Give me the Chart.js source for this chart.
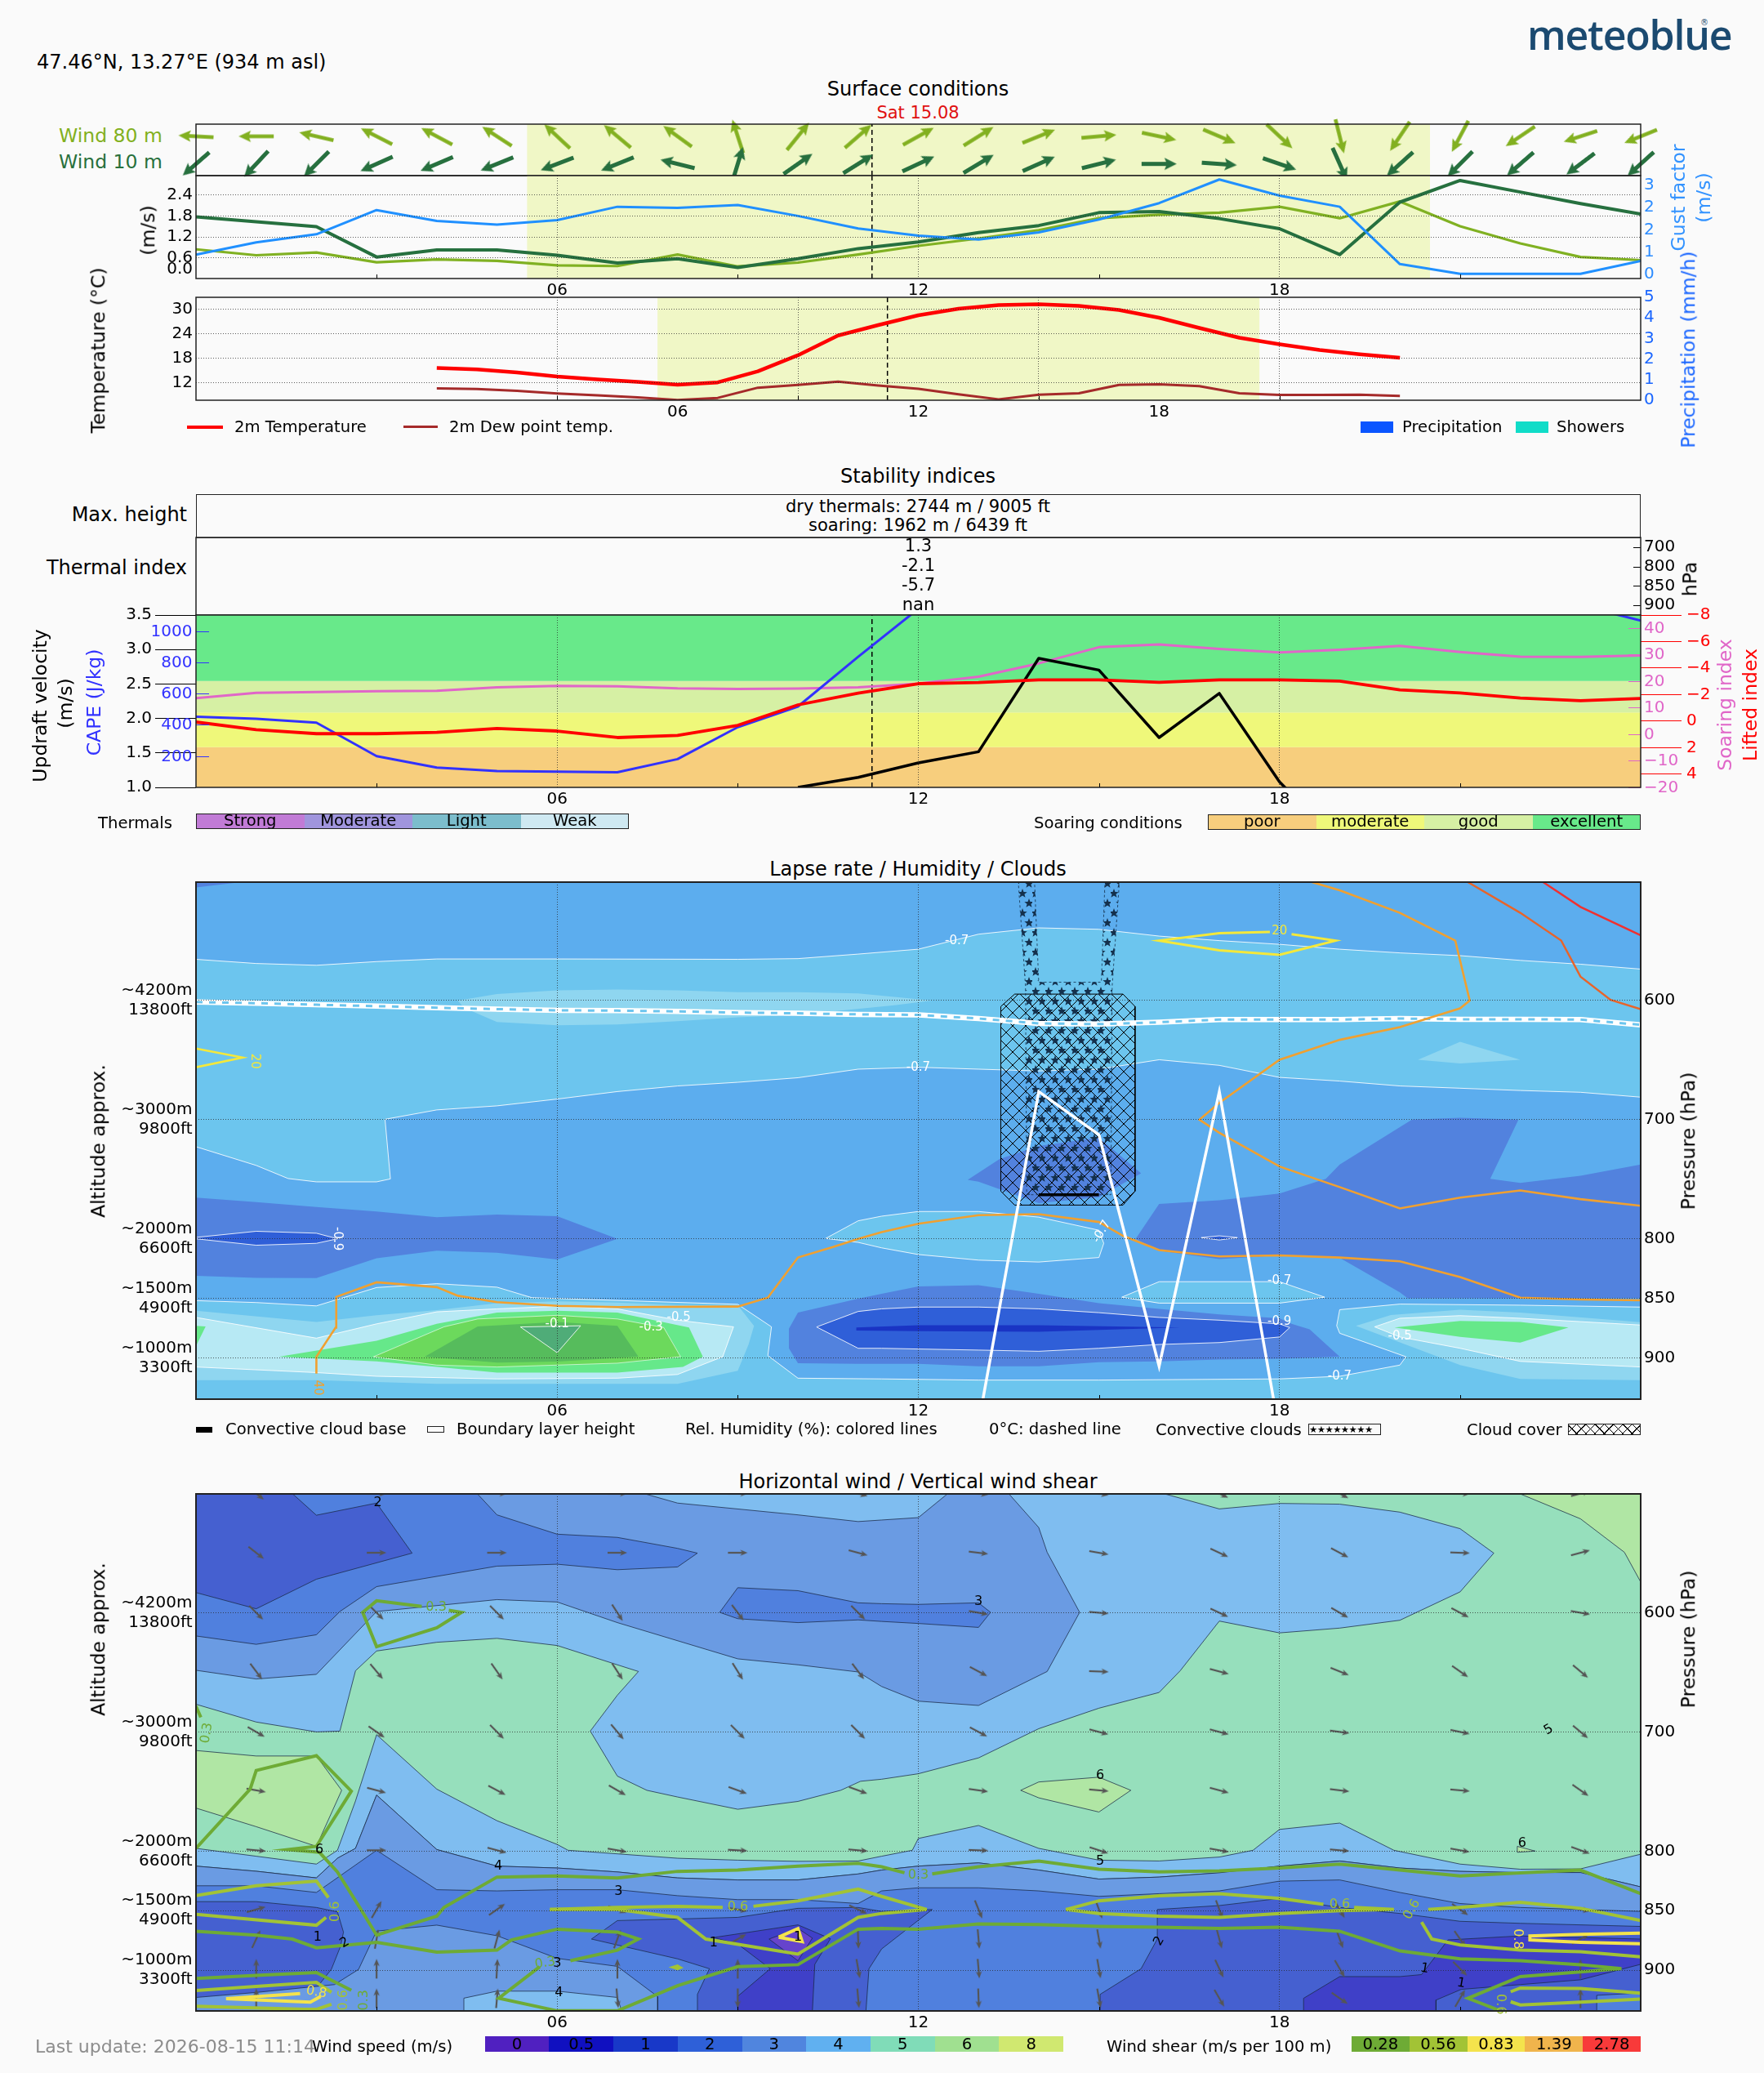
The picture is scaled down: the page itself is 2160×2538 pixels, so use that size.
<!DOCTYPE html>
<html><head><meta charset="utf-8">
<script src="https://cdn.jsdelivr.net/npm/chart.js@4"></script>
<style>
html,body{margin:0;padding:0;background:#fafafa;width:2160px;height:2538px;overflow:hidden;font-family:"DejaVu Sans",sans-serif}
canvas{position:absolute;left:0}
.t{position:absolute;white-space:nowrap;line-height:1}
.b{position:absolute;box-sizing:border-box}
</style></head><body>
<script>
/* ---------- surface conditions ---------- */
const hourTicks=[6,12,18], hourTickLabels=['06','12','18'], minorHours=[3,9,15,21];
const nowHour=11.23, daylight=[5.5,20.5];
const wind80Dir=[273,270,283,297,298,303,313,310,306,342,39,49,61,58,68,85,102,113,133,166,214,208,236,252,248];
const wind10Dir=[229,223,225,246,247,248,249,248,284,17,55,58,65,59,66,76,90,94,109,156,228,225,229,233,228];
const wind10=[1.78,1.64,1.50,.63,.83,.83,.68,.46,.58,.33,.58,.87,1.06,1.33,1.53,1.90,1.93,1.73,1.44,.70,2.20,2.82,2.49,2.16,1.86];
const wind80=[.85,.68,.76,.48,.56,.52,.39,.37,.70,.36,.47,.70,.95,1.16,1.40,1.74,1.84,1.90,2.07,1.74,2.22,1.51,1.02,.63,.54];
const gust=[.71,1.15,1.44,2.31,1.92,1.79,1.95,2.43,2.39,2.49,2.10,1.65,1.39,1.25,1.51,1.97,2.56,3.41,2.83,2.43,.37,.02,.02,.02,.48];
const windTickPos=[.28,.6,1.2,1.8,2.4], windTickLabels=['0.0','0.6','1.2','1.8','2.4'];
const gustTickPos=[0,.8,1.6,2.4,3.2], gustTickLabels=['0','1','2','2','3'];
const temp2m=[15.7,15.35,14.6,13.6,12.9,12.3,11.6,12.15,14.85,18.8,23.65,26.2,28.6,30.2,31.1,31.3,30.9,29.9,28.0,25.5,23.1,21.5,20.1,19.05,18.2];
const dew2m=[10.7,10.55,10.1,9.45,9.0,8.5,7.85,8.35,10.85,11.55,12.35,11.4,10.6,9.25,8.0,9.15,9.5,11.55,11.7,11.25,9.5,9.1,9.1,9.15,8.85];
const precipitation=[0,0,0,0,0,0,0,0,0,0,0,0,0,0,0,0,0,0,0,0,0,0,0,0,0];
const showers=[0,0,0,0,0,0,0,0,0,0,0,0,0,0,0,0,0,0,0,0,0,0,0,0,0];
const tempTicks=[12,18,24,30], precipTicks=[0,1,2,3,4,5];
/* ---------- stability ---------- */
const updraft=[null,null,null,null,null,null,null,null,null,null,1.0,1.146,1.356,1.517,2.872,2.702,1.723,2.363,1.079,.2,null,null,null,null,null];
const cape=[452,439,414,200,127,104,101,97,181,385,517,835,1142,1300,1400,1500,1500,1450,1400,1400,1350,1300,1250,1163,1067];
const soaring=[13.6,15.6,15.9,16.2,16.4,17.7,18.2,18.05,17.3,17.1,17.2,17.7,19.1,21.7,26.7,32.8,33.8,32.1,30.8,31.8,33.3,31,29.2,29.1,29.7];
const lifted=[.06,.64,.94,.94,.84,.55,.74,1.23,1.07,.31,-1.23,-2.11,-2.83,-2.91,-3.12,-3.12,-2.93,-3.12,-3.12,-3.02,-2.36,-2.13,-1.74,-1.54,-1.72];
const soarLimits=[1,1.585,2.086,2.544,3.5];
const soarNames=['poor','moderate','good','excellent'];
const thermalNames=['Strong','Moderate','Light','Weak'];
const updraftTicks=[1,1.5,2,2.5,3,3.5];
const capeTicks=[200,400,600,800,1000];
const soarTicks=[-20,-10,0,10,20,30,40], soarTickLabels=['−20','−10','0','10','20','30','40'];
const liftTicks=[-8,-6,-4,-2,0,2,4], liftTickLabels=['−8','−6','−4','−2','0','2','4'];
const hPaLabels=['700','800','850','900'], thermalIndex=['1.3','-2.1','-5.7','nan'];
/* ---------- shared vertical axes ---------- */
const pressureTicks=[600,700,800,850,900];
const altitudeLabels=[['~4200m','13800ft'],['~3000m','9800ft'],['~2000m','6600ft'],['~1500m','4900ft'],['~1000m','3300ft']];
/* ---------- lapse rate contours (hour, hPa pairs) ---------- */
const lrCorner=[0,500,.85,500,0,505];
const lrUpperBand=[0,565.4,1,568.9,2,570.4,3,567.3,4,565.1,6,565.1,9,565.4,10,564.8,11,561,12,556.9,13,544.3,14,539,15,540.2,16,545.9,17,549.7,18,552.8,19,556.9,20,560,21,562.3,22,566.3,23,569.5,24,573.6,24,681.1,23,677,22,675.5,21,673.6,20,671.7,19,667.6,18,664.5,17,654.4,16,649.7,15,657.6,14,659.1,13,657.6,12,656,11,657.6,10,664.8,9,668.6,8,671.7,7,676.4,6,682.7,5,688.4,4,691.8,3.14,699.7,3.23,749.7,3,752.2,2,752.2,1.53,749.4,1,738.4,0,722.7];
const lrPaleMid=[4.35,600,5,594.6,6,591.4,7,590.8,8,591.4,9,593,10,593,11,594,11.6,596.9,12.23,600,11.6,604,10,612,9,614,8,617.4,7,620,6,620.7,5,618,4.45,606];
const lrPaleRight=[20.3,649.7,21,634.6,22,649.7,21,652.8];
const lrDarkLeft=[0,765.4,1,769.2,2,773.3,3,777.1,4,781.8,5,779.6,6,781.1,7,800,6,817.3,5,811.7,4,810,3,816.4,2,833,1,832.7,0,831.1];
const lrDeepLeft=[0,798.8,1,793.7,2,795.3,2.35,800,2,803.8,1,805.4,0,800];
const lrBlobCloud=[12.82,750.5,13.35,733,14,722,15,715,15.7,745,15,765,14,770,13,752];
const lrDarkRight=[15.61,800,16,770.8,17,767.6,18,762,18.77,749.7,19,737.7,20.2,700,21,698.4,21.97,700,21.5,749.7,22,753,23,747,24,737.7,24,850,20.13,850,20,845,19,816,18,814,17,817,16,810];
const lrDeepDot=[16.7,799,17,797.5,17.3,799,17,801];
const lrLowLight=[0,851.9,1,853.5,2,856.3,3,840.9,4,837.7,5,840.6,5.58,849.4,9,855,9.56,873.9,9.5,898,10,917,11.39,917.6,13,918.6,15,918.6,18,917.6,19,915.4,20,906,20.1,899,19,879.3,18.95,873,19,859.5,20,854.8,22,855.7,24,857.3,24,935,0,935];
const lrLowDark=[9.85,875.5,10,862,11,850.3,11.39,846.2,12,840,13,839,14,846.2,15,854,16,858.8,17,863.5,18,866.7,18.2,871.4,18.5,876,19,899,18,900.7,17,901.3,16,902.9,15,903.5,14,907,13,907,12,905,11,905,10,904.4,9.85,891.9];
const lrLowDeep=[10.31,874,11,861,11.39,858.8,12,857.3,13,857.3,14,858.8,15,862,16,866,17,868.3,18,871.4,18.17,874.5,18,882.4,17,887.1,16,888.7,15,891.9,14,894.4,13,893.4,12,892.5,11.39,891.9,11,891.9];
const lrLowDeepest=[10.97,874.5,12,872.5,14,872.5,16.35,874.5,14,878,12,877.5,10.97,877];
const lrPaleLeft=[0,860.4,2,869.8,3,864.2,4,859.8,5,854,6,852.5,7,853.5,8,855.7,9,855.7,9.27,873,9.18,888.7,9,910.7,8,921.7,6,921.7,4,921.7,2,918.6,0,918.6];
const lrPalestLeft=[0,866,2,883.4,3,871.4,4,861.3,5,858.8,6,856.6,7,858.8,8,868.3,8.93,873.9,8.75,899,8,913.9,7,917,5,917.6,3,915.4,2,912.3,0,907.6];
const lrGreenA=[1.38,899,3,885.5,4,871.4,5,862,6,860.4,7,862,8.19,874.5,8.42,899,8.09,907.6,7,912.3,5,912.3,4,907.6,3,902.9];
const lrGreenEdge=[0,873,.16,873.5,0,890];
const lrGreenB=[2.95,899,4.12,873.9,4.68,867.3,6,864.2,7,867.3,7.77,874.5,8.05,899,7,904.4,5,907.6,4,906];
const lrGreenC=[3.8,899,4.68,873.5,6,869.8,7,873,7.35,899,6,903,5,904];
const lrGreenD=[5.39,874,6.39,873,6,895.6];
const lrPaleLow=[19.27,873,19.85,864,21,859.5,22,862,24,870,24,918.6,22,917.6,21,906,20,887];
const lrPalestLow=[19.58,873.9,20,866.7,21,864.5,22,866.7,24,872.4,24,907.6,22,902.9,21,891.9,20,882.4];
const lrGreenLow=[19.91,874.5,21,868.9,22,869.8,22.8,874.5,22,887.1,21,882.4];
const lrLightMid=[10.46,799.7,11,784.9,11.39,781,12,777.1,13,777.1,14,781.8,15,792.8,15.08,803.8,15,815.7,14,819.5,13,817.9,12,813.2,11.39,807.6,11,803];
const lrLightPatch=[15.38,849,16,836,18,836,18.75,849,18,854,16,854];
const boundaryLayer=[null,null,null,null,null,null,null,null,null,null,null,null,null,955,676.4,712.6,907,676.4,963,null,null,null,null,null,null];
const cloudBase=[14,763,15,763];
const freezing=[601.3,602.2,603.5,604.7,606,607.2,608.2,608.5,609.1,610.1,610.7,611.6,612,615.1,619.2,619.8,618.2,616,616,616,615.1,615.7,615.7,616,620.4];
const rhOrangeLow=[2,913.2,2,899,2.32,874.5,2.33,848.8,3,836.5,4,840.6,4.35,847.8,5,853.2,6,856.3,7,857.3,9,856.9,9.5,849.4,10,815.7,10.58,806.9,11,800,11.39,794.4,12,787.4,13,780.2,14,779.3,15,785.9,15.4,797.5,16,809.5,17,814.8,18,813.9,19,815.7,20,818.9,21,832.1,22,849.4,23,851,24,851.6];
const rhOrangeHigh=[18.54,500.6,19,507.5,20,526.4,20.92,549.7,21.16,600,21,606.6,20,622.3,19,633,18,649.7,17,685.9,16.67,700,17,711,18,739.3,19,756.6,20,774.5,21,765.4,22,759.4,23,766.7,24,772.3];
const rhDeepOrange=[21.13,500.6,22,526.4,22.68,549.7,23,579.9,23.5,599.4,24,607.2];
const rhRed=[22.38,500.6,23,521.4,24,545.3];
const rhYellowA=[18.2,544.3,18.93,549.7,18,561.6,17,557.9,16,549.7,17,543.4,17.84,542.4];
const rhYellowB=[0,640.3,.776,647.8,0,656];
const cloudCover=[13.37,605,13.6,594.6,15.4,594.6,15.6,605,15.6,760,15.4,771.7,13.6,771.7,13.37,760];
const convClouds=[13.66,500,13.93,500,14,584.6,15.04,584.6,15.1,500,15.34,500,15.22,588,15.2,763,13.8,763,13.78,588];
const lapseLabels=[[12.64,549.7,'-0.7',0,'#fff'],[12,656,'-0.7',0,'#fff'],[15.05,794,'-0.7',-60,'#fff'],[18,835,'-0.7',0,'#fff'],[18,869.8,'-0.9',0,'#fff'],[20,881.8,'-0.5',0,'#fff'],[19,915.4,'-0.7',0,'#fff'],[2.35,800,'-0.9',90,'#fff'],[6,871.7,'-0.1',0,'#fff'],[7.56,874,'-0.3',0,'#fff'],[8.02,866,'-0.5',0,'#fff'],[2.02,925,'40',90,'#f0a030'],[.97,651,'20',90,'#f4e83a'],[18,542,'20',0,'#f4e83a']];
/* ---------- horizontal wind contours (hour, hPa pairs) ---------- */
const wsBlue4Top=[0,500,16.07,500,17,512.9,18,508.3,19,508.9,20,515.6,21,529.5,21.56,550,21,582.5,20,606.3,19,612.9,18,616.9,17,607,16.35,648.7,16,666.9,15,680.1,14,697.3,13,721.8,12,735.1,11.39,739.7,11.04,741.4,10.71,749,10,758.3,9,764.9,8,754.6,7.49,749,7,737.1,6.55,699.3,7,669.2,7.35,649.3,7,643.7,6,627.5,5,621.5,4,624.8,3,632.1,2.65,648.7,2.39,699.3,2,700,1,691.7,0,676.8];
const wsBlue4Low=[0,797.7,1,804.3,2,810.9,2.35,799.3,2.65,757.9,3,702.3,4,748,5,774.5,6,794.4,6.18,799.3,8,806,9,807.6,10,808.6,11,808.3,11.39,804.3,11.9,799.3,12,789.4,13,778.5,14,797.7,15,807.6,16,808.3,17,805,17.56,799.3,18,781.8,19,776.5,19.9,799.3,21,810.9,22,815.2,23,814.9,24,802.6,24,830,23,818,22,818,21,817,20,814.2,19,808.3,18,812.6,17,818.2,16,821.8,15,823.5,14,815.9,13,809.9,12,812.6,11.39,815.9,11,819.2,10,824.2,9,824.2,8,822.5,7,817.5,6,814.2,5,812.6,4,798.7,3,753,2.65,797.7,2.35,806,2,822.5,1,816.9,0,812.6];
const wsGreenLeft=[0,715.6,1,720.2,2,720.2,2.42,749,2,796,1,779.5,0,763.9];
const wsGreenMid=[13.7,749,14,742,15,738,15.53,749,15,767.2,14,755.3];
const wsGreenTop=[22,500.3,23,521.2,23.73,549.3,24,574.2,24,500];
const wsGreenDot=[21.95,796,22.25,800,21.95,801];
const wsGrey3Top=[0,500,7.44,500,8,508,10,517.9,11,523.5,11.39,522.2,12,520.2,12.49,500,13.5,500,14,528.5,14.14,549.3,14.68,599.7,14.14,649.3,13,677.8,12,674.2,11.39,661.9,11,649.7,10,643.7,9,638.7,7,608.3,6,591,5,589,3,599,2,651.7,1,655.6,0,648.3];
const wsBlue2Top=[0,500,4.67,500,5,517.9,6,534.1,7,536.8,8,546,8.33,550,8,561.6,7,563.9,6,559.3,5,560.9,3,578.1,2.39,599,2,618.5,1,626.5,0,619.5];
const wsIndigoTop=[0,500,1.6,500,2,518.2,3,508,3.59,550,2,571.9,1,596.7,0,583.1];
const wsBlue2Mid=[8.7,599.7,9,579,10,581.5,11,591.7,11.39,592.4,12,593,13,591.7,13.2,599.7,13,612.3,12,609,11.39,607.3,11,606,10,608.3,9,605];
const wsGrey3Low=[0,812.6,1,816.9,2,822.5,2.35,806,2.65,797.7,3,753,4,798.7,5,812.6,6,814.2,7,817.5,8,822.5,9,824.2,10,824.2,11,819.2,11.39,815.9,12,812.6,13,809.9,14,815.9,15,823.5,16,821.8,17,818.2,18,812.6,19,808.3,20,814.2,21,817,22,818,23,818,24,830,24,934,0,934];
const wsBlue2Low=[0,829.1,1,829.1,2,834.7,3,799.3,4,832.4,5,833.4,6,832.4,7,832.4,8,837.4,9,840.7,10,840.7,11,844,11.39,833.4,12,830.8,13,830.8,14,833.4,15,838,16,835.7,17,833.4,18,825.2,19,824.2,20,834.7,21,844,22,847.3,24,850.6,24,934,0,934];
const wsIndigoLeft=[0,842.4,1,842.4,2,847.3,2.35,851,2.45,868,2.4,880,2.25,899,2,915,0,925];
const wsGrey3Bottom=[0,922.8,1,918.6,2.3,912,2.7,899.3,3,867.1,4,862.1,5,871,6,890,7,896.7,7.67,922.1,7.67,934,0,934];
const wsBlue4Bottom=[4.45,923.4,5,917.5,6,917.5,7,922.8,7.07,934,4.45,934];
const wsIndigoCentre=[6.57,873.8,7,858.3,9,855.6,10,848,11,847.3,11.39,850.6,12.23,849,11.39,882.1,11.18,898.7,11.13,934,8.33,934,8.33,920.2,8.53,898.7,8,890.4,7,878.8];
const wsVioletCentre=[8.6,872.5,10,861.9,10.54,873.5,10.28,895,10.24,934,9,934,9,921.8,9.54,898.7,9,878];
const wsPurpleCentre=[9.52,873.8,10,864.8,10.24,873,10,892];
const wsIndigoRight=[15.97,849,17,845.7,18,839.7,19,847.3,20,852.3,21,858.9,22,860.6,24,863.2,24,934,15.02,934,15.02,920.2,15.7,898.7,15.97,873.8];
const wsVioletRight=[18.4,923.5,19,905.3,20,905.3,20.36,903.6,20.8,874.5,22,871.2,24,873.8,24,895,23,908,22,912,21.02,916,20.6,925,20.6,934,18.4,934];
const wsBlue2Corner=[23.27,921,24,919,24,934,23.27,934];
/* wind arrows */
const arrowHours=[1,3,5,7,9,11,13,15,17,19,21,23];
const arrowLevels=[500,549.7,600,649.3,700,749,799.3,849,873.8,898.7,923.5];
const dir500=[128,90,90,90,90,105,97,100,115,118,92,75];
const dir550=[128,90,90,90,90,105,97,100,115,118,92,75];
const dir600=[135,135,135,147,143,135,100,95,115,120,118,100];
const dir650=[143,140,145,147,148,143,118,92,105,112,125,130];
const dir700=[120,125,135,140,135,135,118,105,105,98,102,130];
const dir750=[100,105,118,120,110,110,98,95,105,97,95,125];
const dir800=[95,90,105,100,93,95,92,108,100,95,100,110];
const dir850=[74,30,55,110,100,115,158,160,160,150,125,100];
const dir875=[25,10,15,20,60,178,175,170,165,160,145,60];
const dir900=[0,0,3,0,0,170,175,170,155,150,135,0];
const dir925=[0,0,5,175,180,175,178,170,150,125,30,0];
const arrowDirs=[dir500,dir550,dir600,dir650,dir700,dir750,dir800,dir850,dir875,dir900,dir925];
/* shear lines */
const shGreenA=[3.75,594.7,3,590,2.77,599.7,3,628.5,4,612.6,4.41,599.7,4.2,598];
const shGreenB=[0,797.7,.9,748,1,732.4,2,719.9,2.58,749.7,2,796,1.53,798.7,2.05,801,2.35,817.5,2.72,847.3,3,870.5,4,854.6,4.12,847.3,5,821.8,6,820.8,7,822.5,8,817,9,815.9,10,812.6,11,810.3,11.39,813.2,11.77,818.2];
const shGreenB2=[12.23,819.2,13,813.2,14,808.3,15,815.2,16,817.5,17,816.5,18,814.2,19,810.9,20,815.9,21,820.8,22,818.2,23,815.9,24,835.7];
const shGreenC=[0,867.2,1,870.5,1.6,873.8,2,881.1,3,876.5,4,884.8,5,883.1,5.24,874.5,6,865.5,7,867.9,7.35,873.8,7,883.1,6.22,892];
const shGreenC2=[5.71,897,5.03,923.5,6,934,7,934,8,912.9,9,897,10,895.3,11,865.5,11.39,864.9,12,865.5,13,861.2,14,861.6,15,863.2,16,863.9,17,864.9,18,863.9,19,867.2,20,883.8,21,890.4,22,892,23,895.3,23.68,898.7,22,905.3,21.13,923.5,21.67,934];
const shGreenD=[0,906.9,1,904.3,2,901.9,2.58,916.8];
const shGreenE=[0,678.5,.08,687.7];
const shOliveA=[0,837.4,1,829.1,2,825.2,2.2,839];
const shOliveB=[0,853,2,862.2,2.16,855.6];
const shOliveC=[0,916.9,1,913.6,2,910.2,2.25,918.5];
const shOliveD=[0,930.2,1.8,932.8,2,932.8,2.25,928.5];
const shOliveE=[5.88,849,7,849,8,855.6,8.47,873.8,10,886.4,11,855.6,11.39,852.3,12.14,849];
const shOliveF=[5.88,849,7,847.3,8,846.3,8.75,847.3];
const shOliveG=[9.26,846.3,10,841.7,11,831.8,11.39,838,12.14,849];
const shOliveH=[14.45,849,15,841.7,16,837.4,17,835.7,18,839.7,18.73,844.6];
const shOliveI=[19.24,847.3,19.9,849,19,850,18,852.3,17,855.6,16,854.6,15,852.3,14.45,849];
const shOliveJ=[20.47,849,21,847.3,22,843,23,848,24,858.2];
const shOliveK=[20.36,859.6,20.53,873.8,21,878.8,22,883.1,23,884.4,24,888.7];
const shOliveL=[24,919.2,23,915.2,22,914.9,21.84,918];
const shOliveM=[24,924.2,23,926.8,22,929.1,21.84,926.4];
const shYellowA=[.5,923.8,1.73,919.6];
const shYellowB=[.5,923.8,1.9,926.8,2.07,922];
const shYellowC=[9.68,872.2,10,865,10.07,876,9.68,872.2];
const shYellowD=[24,868.9,23,869.9,22.16,871.2,22.16,874.5,23,876.5,24,877.8];
const shBlob=[7.85,897.5,8,895,8.1,898,8,900];
const windLabels=[[3.02,508,'2',0,'#000'],[2.05,799.3,'6',0,'#000'],[5.02,812.6,'4',0,'#000'],[7.02,834,'3',0,'#000'],[2.02,872.5,'1',0,'#000'],[2.47,877,'2',-30,'#000'],[6,894,'3',0,'#000'],[6.03,918.6,'4',0,'#000'],[13,590.7,'3',0,'#000'],[15.02,736.4,'6',0,'#000'],[15.02,808.3,'5',0,'#000'],[16,875.5,'2',-60,'#000'],[22.47,698.3,'5',-30,'#000'],[22.03,793.4,'6',0,'#000'],[20.41,898.7,'1',10,'#000'],[21.02,911,'1',10,'#000'],[8.6,877,'1',0,'#000'],[10,872,'1',0,'#000'],
[3.99,595.7,'0.3',0,'#6eab35'],[.18,701,'0.3',-80,'#6eab35'],[12,820,'0.3',0,'#6eab35'],[5.8,894,'0.3',-10,'#6eab35'],[2.32,850.7,'0.6',-90,'#a2c335'],[9,847.3,'0.6',0,'#a2c335'],[2,918.5,'0.8',10,'#f4e34c'],[2.46,925,'0.6',-90,'#a2c335'],[2.79,925,'0.3',-90,'#6eab35'],[19,845,'0.6',0,'#a2c335'],[20.2,849,'0.6',-60,'#a2c335'],[21.95,873.8,'0.8',90,'#f4e34c'],[21.67,928.5,'0.6',90,'#a2c335']];
/* legends */
const windSpeedLevels=['0','0.5','1','2','3','4','5','6','8'];
const shearLevels=['0.28','0.56','0.83','1.39','2.78'];

/* ---------- helpers ---------- */
Chart.defaults.font.family='"DejaVu Sans"';
Chart.defaults.font.size=20;
Chart.defaults.color='#000';
const PT=40,PB=40,LEFT=240,RIGHT=151,DOT='rgba(40,40,40,.75)';
const pairs=a=>{const r=[];for(let i=0;i<a.length;i+=2)r.push({x:a[i],y:a[i+1]});return r};
const base={pointRadius:0,pointHitRadius:0,tension:0,spanGaps:false};
function poly(a,color,border,bw,extra){const d=pairs(a);d.push(d[0]);return Object.assign({},base,{data:d,fill:'shape',backgroundColor:color,borderColor:border||color,borderWidth:border?(bw||1):0},extra||{})}
function path(a,color,w,extra){return Object.assign({},base,{data:pairs(a),fill:false,borderColor:color,borderWidth:w,borderJoinStyle:'miter'},extra||{})}
function hourly(v,color,w,extra){return Object.assign({},base,{data:v.map((y,x)=>({x,y})),fill:false,borderColor:color,borderWidth:w,borderJoinStyle:'round'},extra||{})}
function rect(x0,x1,y0,y1,color){return poly([x0,y0,x1,y0,x1,y1,x0,y1],color)}
function arrowImage(len,shaft,headLen,headW,color){const c=document.createElement('canvas');c.width=c.height=len+6;const g=c.getContext('2d'),m=c.width/2,t=3;g.fillStyle=color;g.beginPath();g.moveTo(m,t);g.lineTo(m+headW/2,t+headLen);g.lineTo(m+shaft/2,t+headLen-2);g.lineTo(m+shaft/2,t+len);g.lineTo(m-shaft/2,t+len);g.lineTo(m-shaft/2,t+headLen-2);g.lineTo(m-headW/2,t+headLen);g.closePath();g.fill();return c}
function hatchPattern(){const c=document.createElement('canvas');c.width=c.height=16;const g=c.getContext('2d');g.strokeStyle='#000';g.lineWidth=1;g.beginPath();g.moveTo(0,0);g.lineTo(16,16);g.moveTo(16,0);g.lineTo(0,16);g.stroke();return g.createPattern(c,'repeat')}
function starPath(g,x,y,r){g.beginPath();for(let i=0;i<10;i++){const q=i%2?r*.42:r,a=-Math.PI/2+i*Math.PI/5;g.lineTo(x+q*Math.cos(a),y+q*Math.sin(a))}g.closePath();g.fill()}
function starPattern(){const c=document.createElement('canvas');c.width=16;c.height=24;const g=c.getContext('2d');g.fillStyle='#14304c';starPath(g,4,6,6);starPath(g,12,18,6);return g.createPattern(c,'repeat')}
const extrasCfg={};
Chart.register({id:'extras',afterDraw(c){
 const o=extrasCfg[c.canvas.id];if(!o)return;const g=c.ctx,a=c.chartArea;g.save();
 if(o.minor){g.strokeStyle='#000';g.lineWidth=1;g.beginPath();o.minor.forEach(h=>{const x=Math.round(c.scales.x.getPixelForValue(h))+.5;g.moveTo(x,a.bottom);g.lineTo(x,a.bottom-5)});g.stroke()}
 (o.side||[]).forEach(s=>{const sc=c.scales[s.scale];g.strokeStyle=s.color;g.fillStyle=s.color;g.lineWidth=1;g.font=(s.size||20)+'px "DejaVu Sans"';g.textBaseline='middle';g.textAlign=s.align;
  s.values.forEach((v,i)=>{const y=Math.round(sc.getPixelForValue(v))+.5;g.beginPath();g.moveTo(s.from,y);g.lineTo(s.to,y);g.stroke();if(s.labels)g.fillText(s.labels[i],s.labelX,y)})});
 (o.labels||[]).forEach(l=>{const x=c.scales.x.getPixelForValue(l[0]),y=c.scales[o.labelScale||'y'].getPixelForValue(l[1]);g.save();g.translate(x,y);g.rotate((l[3]||0)*Math.PI/180);g.fillStyle=l[4]||'#000';g.font=(o.labelSize||15)+'px "DejaVu Sans"';g.textAlign='center';g.textBaseline='middle';g.fillText(l[2],0,0);g.restore()});
 if(o.frame!==false){g.strokeStyle='#222';g.lineWidth=o.frameW||1.5;g.strokeRect(a.left,a.top,a.right-a.left,a.bottom-a.top)}
 g.restore()}});
function xAxis(){return{type:'linear',min:0,max:24,afterFit:s=>{s.height=PB},afterBuildTicks:s=>{s.ticks=hourTicks.map(v=>({value:v}))},
 ticks:{callback:(v,i)=>hourTickLabels[i],autoSkip:false,maxRotation:0,padding:3,font:{size:20},color:'#000'},
 grid:{drawTicks:false,color:DOT,lineWidth:1,z:1},border:{display:false,dash:[1,2]}}}
function yAxis(side,min,max,pos,labs,o){o=o||{};return{type:'linear',position:side,min,max,reverse:!!o.reverse,
 afterFit:s=>{s.width=side==='left'?LEFT:RIGHT},afterBuildTicks:s=>{s.ticks=pos.map(v=>({value:v}))},
 ticks:{callback:(v,i)=>labs[i],autoSkip:false,padding:o.pad===undefined?4:o.pad,color:o.color||'#000',font:{size:o.size||20}},
 grid:{drawOnChartArea:!!o.grid,drawTicks:!!o.tick,tickLength:o.tick||0,tickColor:o.tickColor||o.color||'#000',color:c=>(o.noGrid&&o.noGrid.includes(c.tick&&c.tick.value))?'rgba(0,0,0,0)':DOT,lineWidth:1,z:1},border:{display:false,dash:o.grid?[1,2]:undefined}}}
function make(id,top,bottom,datasets,scales,extra,pad){
 const c=document.createElement('canvas');c.id=id;c.width=2160;c.height=bottom-top+PT+PB;c.style.top=(top-PT)+'px';document.body.appendChild(c);
 extrasCfg[id]=extra||{};
 return new Chart(c,{type:'line',data:{datasets:datasets.slice().reverse()},options:{responsive:false,animation:false,devicePixelRatio:1,events:[],parsing:undefined,layout:{padding:pad||{top:PT,left:0,right:0,bottom:0}},plugins:{legend:{display:false},tooltip:{enabled:false},title:{display:false}},scales}})}
function txt(s,x,y,o){o=o||{};const e=document.createElement('div');e.className='t';e.textContent=s;const ax=o.align==='center'?'-50%':o.align==='right'?'-100%':'0';e.style.cssText=`left:${x}px;top:${y}px;font-size:${o.size||20}px;color:${o.color||'#000'};transform:translate(${ax},-50%)`+(o.rot?` rotate(${o.rot}deg)`:'')+';'+(o.css||'');document.body.appendChild(e);return e}
function box(x,y,w,h,bg,border){const e=document.createElement('div');e.className='b';e.style.cssText=`left:${x}px;top:${y}px;width:${w}px;height:${h}px;background:${bg};`+(border?`border:${border};`:'');document.body.appendChild(e);return e}
function vtxt(s,x,y,color,size){const e=txt(s,x,y,{size:size||23.5,color});e.style.transform='translate(-50%,-50%) rotate(-90deg)';return e}

/* ---------- header ---------- */
txt('47.46°N, 13.27°E (934 m asl)',45,75.5,{size:24});
txt('meteoblue',1870,42,{size:50,color:'#1b4a70',css:'font-family:"Open Sans";font-weight:600;letter-spacing:-1.2px;'});
txt('®',2082,28,{size:10,color:'#1b4a70'});
txt('Surface conditions',1124,109,{size:24,align:'center'});
txt('Sat 15.08',1124,137.5,{size:21,align:'center',color:'#e01010'});
txt('Wind 80 m',72,166.5,{size:23.5,color:'#82b020'});
txt('Wind 10 m',72,199,{size:23.5,color:'#28703c'});

/* ---------- arrows strip ---------- */
const img80=arrowImage(43,4.5,15,14,'#82b020'),img10=arrowImage(43,5,15,15,'#27703f');
const arrowSet=(dirs,level,img)=>({pointStyle:img,pointRadius:20,pointRotation:c=>dirs[c.dataIndex],showLine:false,clip:false,data:dirs.map((d,x)=>({x,y:level})),borderWidth:0});
make('cArrows',152,215,[
 rect(daylight[0],daylight[1],0,1,'#f0f7c6'),
 path([nowHour,0,nowHour,1],'#000',1.5,{borderDash:[6,4]}),
 arrowSet(wind80Dir,.763,img80),arrowSet(wind10Dir,.227,img10)
],{x:{type:'linear',min:0,max:24,display:false},y:{type:'linear',min:0,max:1,display:false}},{},{top:PT,left:LEFT,right:RIGHT,bottom:PB});

/* ---------- wind ---------- */
make('cWind',215,341,[
 rect(daylight[0],daylight[1],.014,2.96,'#f0f7c6'),
 path([nowHour,.014,nowHour,2.96],'#000',1.5,{borderDash:[6,4]}),
 hourly(wind80,'#80b122',3.2),hourly(wind10,'#26703f',4),hourly(gust,'#2090ff',3,{yAxisID:'y1'})
],{x:xAxis(),y:yAxis('left',.014,2.96,windTickPos,windTickLabels,{grid:true,noGrid:[.28]}),
 y1:yAxis('right',-.15,3.55,gustTickPos,gustTickLabels,{color:'#2c8cff'})},{minor:minorHours});
vtxt('(m/s)',182,282);
vtxt('Gust factor',2056,242,'#3393ff');vtxt('(m/s)',2087,242,'#3393ff');

/* ---------- temperature ---------- */
make('cTemp',364,490,[
 rect(daylight[0],daylight[1],7.78,33,'#f0f7c6'),
 path([nowHour,7.78,nowHour,33],'#000',1.5,{borderDash:[6,4]}),
 {type:'bar',data:precipitation.map((y,x)=>({x,y})),backgroundColor:'#0a55ff',yAxisID:'y1'},
 {type:'bar',data:showers.map((y,x)=>({x,y})),backgroundColor:'#10dcc8',yAxisID:'y1'},
 hourly(dew2m,'#a52a2a',3),hourly(temp2m,'#ff0000',4.5)
],{x:xAxis(),y:yAxis('left',7.78,33,tempTicks,tempTicks.map(String),{grid:true}),
 y1:yAxis('right',0,5,precipTicks,precipTicks.map(String),{color:'#1a66ff'})},{minor:minorHours});
vtxt('Temperature (°C)',121,428.5);
vtxt('Precipitation (mm/h)',2068,428,'#1a66ff');
box(229,521,44,4,'#ff0000');txt('2m Temperature',287,523,{size:19.6});
box(494,521,42,3,'#a52a2a');txt('2m Dew point temp.',550,523,{size:19.6});
box(1666,516,40,14,'#0a55ff');txt('Precipitation',1717,523,{size:19.6});
box(1856,516,40,14,'#10dcc8');txt('Showers',1906,523,{size:19.6});

/* ---------- stability ---------- */
txt('Stability indices',1124,582.7,{size:24,align:'center'});
box(240,605,1769,54,'transparent','1.5px solid #222');
txt('Max. height',229,630,{size:24,align:'right'});
txt('dry thermals: 2744 m / 9005 ft',1124,620,{size:21,align:'center'});
txt('soaring: 1962 m / 6439 ft',1124,642.7,{size:21,align:'center'});
txt('Thermal index',229,695,{size:24,align:'right'});
make('cThermal',658,753,[],{x:{type:'linear',min:0,max:24,display:false},
 y:{type:'linear',min:0,max:3,display:false},
 y1:{type:'category',position:'right',labels:hPaLabels,offset:true,afterFit:s=>{s.width=RIGHT},ticks:{padding:4,font:{size:20},autoSkip:false},grid:{drawTicks:false,drawOnChartArea:false},border:{display:false}}},
 {labelScale:'y1',labelSize:21,labels:thermalIndex.map((t,i)=>[12,i,t,0,'#000']),
  side:[{scale:'y1',values:[0,1,2,3],color:'#000',from:2000,to:2009,align:'left',labelX:0}]},{top:PT,left:LEFT,right:0,bottom:PB});
vtxt('hPa',2070,709);
const soarColors=['#f7ce7d','#eff87a','#d6f0a4','#68e98a'];
make('cStab',753,964,[
 ...soarColors.map((col,i)=>rect(0,24,soarLimits[i],soarLimits[i+1],col)),
 path([nowHour,1,nowHour,3.5],'#000',1.5,{borderDash:[6,4]}),
 hourly(soaring,'#e066c8',3,{yAxisID:'yS'}),
 hourly(cape,'#3232ff',3,{yAxisID:'yC'}),
 hourly(updraft,'#000',3.5),
 hourly(lifted,'#ff0000',3.8,{yAxisID:'y1'})
],{x:xAxis(),y:yAxis('left',1,3.5,updraftTicks,updraftTicks.map(v=>v.toFixed(1)),{tick:50}),
 y1:yAxis('right',-8,4.985,liftTicks,liftTickLabels,{reverse:true,color:'#ff0000',tick:50,pad:6}),
 yC:{type:'linear',min:0,max:1102,display:false},yS:{type:'linear',min:-20,max:44.9,display:false}},
 {minor:minorHours,side:[
  {scale:'yC',values:capeTicks,labels:capeTicks.map(String),color:'#3232ff',from:240,to:256,align:'right',labelX:235.5},
  {scale:'yS',values:soarTicks,labels:soarTickLabels,color:'#e066c8',from:1994,to:2009,align:'left',labelX:2013}]});
vtxt('Updraft velocity',50,863.5);vtxt('(m/s)',81,861);vtxt('CAPE (J/kg)',116,860,'#3232ff');
vtxt('Soaring index',2113,863,'#e066c8');vtxt('Lifted index',2144,863,'#ff0000');
txt('Thermals',120,1008,{size:19.6});
['#c17bd6','#a095dd','#7cbdcc','#cfe9f2'].forEach((col,i)=>{box(240+i*132.5,996,132.5,18.5,col);txt(thermalNames[i],240+(i+.5)*132.5,1005,{size:19.6,align:'center'})});
box(240,996,530,18.5,'transparent','1.5px solid #222');
txt('Soaring conditions',1266,1008,{size:19.6});
soarColors.forEach((col,i)=>{box(1479+i*132.5,997,132.5,18.5,col);txt(soarNames[i],1479+(i+.5)*132.5,1006,{size:19.6,align:'center'})});
box(1479,997,530,18.5,'transparent','1.5px solid #222');

/* ---------- lapse rate ---------- */
txt('Lapse rate / Humidity / Clouds',1124,1064,{size:24,align:'center'});
const W='rgba(255,255,255,.85)',LB='#6cc5ee',PALE='#8fd6f0',PALEST='#b7e9f4',MID='#5cadee',DK='#5282de',DP='#2f5fd8',DST='#1a34c4';
const pMin=500.6,pMax=934.6;
make('cLapse',1080,1713,[
 rect(0,24,pMin,pMax,MID),
 poly(lrCorner,DK),
 poly(lrUpperBand,LB,W,1),
 poly(lrPaleMid,PALE),poly(lrPaleRight,PALE),
 poly(lrDarkLeft,DK),poly(lrDeepLeft,DP,W,1),
 poly(lrDarkRight,DK),poly(lrBlobCloud,DK),poly(lrDeepDot,DP,W,1),
 poly(lrLightMid,LB,W,1),poly(lrLightPatch,LB,W,1),
 poly(lrLowLight,LB,W,1),
 poly(lrLowDark,DK),poly(lrLowDeep,DP,W,1),poly(lrLowDeepest,DST),
 poly(lrPaleLeft,PALE),poly(lrPalestLeft,PALEST,W,1),
 poly(lrGreenEdge,'#66e88a'),poly(lrGreenA,'#66e88a'),poly(lrGreenB,'#6cd95c',W,.7),poly(lrGreenC,'#56bc5c'),poly(lrGreenD,'#4fac78',W,1),
 poly(lrPaleLow,PALE),poly(lrPalestLow,PALEST,W,1),poly(lrGreenLow,'#66e88a'),
 poly(cloudCover,hatchPattern(),'#000',1),
 poly(convClouds,starPattern(),'rgba(20,48,76,.8)',1,{borderDash:[3,3]}),
 hourly(freezing,'#fff',6.5),
 hourly(freezing,'#6cc5ee',3,{borderDash:[8,8]}),
 path(rhOrangeLow,'#f0a030',2.6),path(rhOrangeHigh,'#f0a030',2.6),path(rhDeepOrange,'#e8642a',2.4),path(rhRed,'#f03030',2.4),
 path(rhYellowA,'#f4e83a',3),path(rhYellowB,'#f4e83a',2.6),
 hourly(boundaryLayer,'#fff',3.5,{borderJoinStyle:'miter'}),
 path(cloudBase,'#000',3.5)
],{x:xAxis(),y:yAxis('left',pMin,pMax,pressureTicks,altitudeLabels,{reverse:true,grid:true,pad:4.5}),
 y1:yAxis('right',pMin,pMax,pressureTicks,pressureTicks.map(String),{reverse:true})},{minor:minorHours,labels:lapseLabels,frameW:2});
vtxt('Altitude approx.',121,1397);vtxt('Pressure (hPa)',2068,1397);
box(240,1746.5,20,7,'#000');txt('Convective cloud base',276,1750,{size:19.6});
box(523,1746,21,8,'#fafafa','1px solid #222');txt('Boundary layer height',559,1750,{size:19.6});
txt('Rel. Humidity (%): colored lines',839,1750,{size:19.6});
txt('0°C: dashed line',1211,1750,{size:19.6});
txt('Convective clouds',1415,1751,{size:19.6});
const sw=box(1602,1743,89,14,'#fafafa','1px solid #222');sw.style.cssText+='overflow:hidden;font-size:11.5px;line-height:12px;color:#000;letter-spacing:-.6px;white-space:nowrap;';sw.textContent='★★★★★★★★';
txt('Cloud cover',1796,1751,{size:19.6});
const sw2=box(1920,1743,89,14,'#fafafa','1px solid #222');sw2.style.backgroundImage='repeating-linear-gradient(45deg,transparent 0 7px,#000 7px 8px),repeating-linear-gradient(-45deg,transparent 0 7px,#000 7px 8px)';

/* ---------- horizontal wind ---------- */
txt('Horizontal wind / Vertical wind shear',1124,1814,{size:24,align:'center'});
const C='rgba(25,40,70,.75)',MINT='#96dfbc',SKY='#7fbdf0',GREY3='#6a9be3',B2='#5080de',IND='#4560d0',VIO='#3f40c8',PUR='#6644cc',LIME='#b0e6a4';
const wMin=500.3,wMax=934.1;
const gridArrow=arrowImage(24,2.2,9,7.5,'#555555');
const flatDirs=arrowDirs.flat();
const gridPts=[];arrowLevels.forEach(y=>arrowHours.forEach(x=>gridPts.push({x,y})));
const G6='#6eab35',G5='#a2c335',Y8='#f4e34c';
make('cShear',1829,2462,[
 rect(0,24,wMin,wMax,MINT),
 poly(wsBlue4Top,SKY,C,1),poly(wsGreenLeft,LIME,C,1),poly(wsGreenMid,LIME,C,1),poly(wsGreenTop,LIME,C,1),poly(wsGreenDot,LIME,C,1),
 poly(wsGrey3Top,GREY3,C,1),poly(wsBlue2Top,B2,C,1),poly(wsIndigoTop,IND,C,1),poly(wsBlue2Mid,B2,C,1),
 poly(wsBlue4Low,SKY,C,1),
 poly(wsGrey3Low,GREY3,C,1),poly(wsBlue2Low,B2,C,1),
 poly(wsIndigoLeft,IND,C,1),poly(wsGrey3Bottom,GREY3,C,1),poly(wsBlue4Bottom,SKY,C,1),
 poly(wsIndigoCentre,IND,C,1),poly(wsVioletCentre,VIO,C,1),poly(wsPurpleCentre,PUR,C,1),
 poly(wsIndigoRight,IND,C,1),poly(wsVioletRight,VIO,C,1),poly(wsBlue2Corner,B2,C,1),
 {pointStyle:gridArrow,pointRadius:12,pointRotation:c=>flatDirs[c.dataIndex],showLine:false,data:gridPts,borderWidth:0},
 ...[shGreenA,shGreenB,shGreenB2,shGreenC,shGreenC2,shGreenD,shGreenE].map(a=>path(a,G6,4)),
 ...[shOliveA,shOliveB,shOliveC,shOliveD,shOliveE,shOliveF,shOliveG,shOliveH,shOliveI,shOliveJ,shOliveK,shOliveL,shOliveM].map(a=>path(a,G5,4)),
 poly(shBlob,G5),
 ...[shYellowA,shYellowB,shYellowC,shYellowD].map(a=>path(a,Y8,4))
],{x:xAxis(),y:yAxis('left',wMin,wMax,pressureTicks,altitudeLabels,{reverse:true,grid:true,pad:4.5}),
 y1:yAxis('right',wMin,wMax,pressureTicks,pressureTicks.map(String),{reverse:true})},{minor:minorHours,labels:windLabels,labelSize:16,frameW:2});
vtxt('Altitude approx.',121,2007);vtxt('Pressure (hPa)',2068,2007);
txt('Last update: 2026-08-15 11:14',43,2506,{size:22,color:'#8c8c8c'});
txt('Wind speed (m/s)',382,2506,{size:19.6});
['#5020c0','#1010c0','#1838c8','#2e60d8','#5085de','#60b0f0','#80dcb8','#a0e090','#d0e870'].forEach((col,i)=>{box(593.7+i*78.7,2493,78.8,18.5,col);txt(windSpeedLevels[i],593.7+(i+.5)*78.7,2503,{size:19.6,align:'center'})});
txt('Wind shear (m/s per 100 m)',1355,2506,{size:19.6});
['#6eab35','#a2c335','#f4e34c','#f0b44c','#f83a3a'].forEach((col,i)=>{box(1655+i*70.8,2493,70.9,18.5,col);txt(shearLevels[i],1655+(i+.5)*70.8,2503,{size:19.6,align:'center'})});
</script>
</body></html>
